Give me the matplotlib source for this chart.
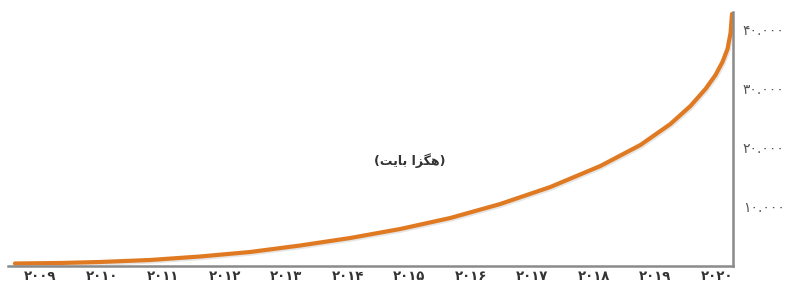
import matplotlib
matplotlib.use("Agg")
from matplotlib import pyplot as plt
from matplotlib import transforms

# values (year, hexabytes)
years = [2008.593, 2009.325, 2009.976, 2010.789, 2011.602, 2012.415, 2013.228,
         2014.041, 2014.854, 2015.667, 2016.480, 2017.293, 2018.106, 2018.756,
         2019.244, 2019.569, 2019.813, 2019.976, 2020.089, 2020.171, 2020.220,
         2020.244]
values = [424, 508, 678, 1017, 1610, 2373, 3475,
          4746, 6271, 8136, 10510, 13390, 16950, 20510,
          24070, 27120, 30000, 32370, 34580, 36780, 39490,
          42710]

tick_years = list(range(2009, 2021))
fa_digits = str.maketrans('0123456789', '۰۱۲۳۴۵۶۷۸۹')
year_labels = [str(y).translate(fa_digits) for y in tick_years]
y_ticks = [10000, 20000, 30000, 40000]
y_labels = [f'{v // 1000}.000'.translate(fa_digits) for v in y_ticks]

# "(هگزا بایت)" written in presentation forms, visual order
unit_label = '(' + '\uFE96\uFBFE\uFE8E\uFE91' + ' ' + '\uFE8D\uFEB0\uFB95\uFEEB' + ')'

fig = plt.figure(figsize=(8.07, 2.85), dpi=100)
ax = fig.add_axes([0.0099, 0.0667, 0.8984, 0.8913])

shadow = ax.transData + transforms.ScaledTranslation(1/100, -1.5/100, fig.dpi_scale_trans)
ax.plot(years, values, color='#cfcfcf', lw=3.2, alpha=0.5, transform=shadow,
        solid_capstyle='round', solid_joinstyle='round')
ax.plot(years, values, color='#e07a22', lw=3.0, solid_capstyle='round',
        solid_joinstyle='round')

ax.set_xlim(2008.48, 2020.26)
ax.set_ylim(0, 43050)

for s in ['left', 'top']:
    ax.spines[s].set_visible(False)
for s in ['bottom', 'right']:
    ax.spines[s].set_color('#8a8a8a')
    ax.spines[s].set_linewidth(1.8)

ax.yaxis.tick_right()
ax.set_yticks(y_ticks)
ax.set_yticklabels(y_labels, fontsize=10, color='#555555')
ax.set_xticks(tick_years)
ax.set_xticklabels(year_labels, fontsize=9.5, color='#333333', fontweight='bold')
ax.tick_params(axis='both', length=0)
ax.tick_params(axis='y', pad=7)
ax.tick_params(axis='x', pad=3)

ax.text(2015.0, 17800, unit_label, fontsize=9, fontweight='bold',
        color='#333333', ha='center', va='center')

fig.savefig('out.png', dpi=100)
